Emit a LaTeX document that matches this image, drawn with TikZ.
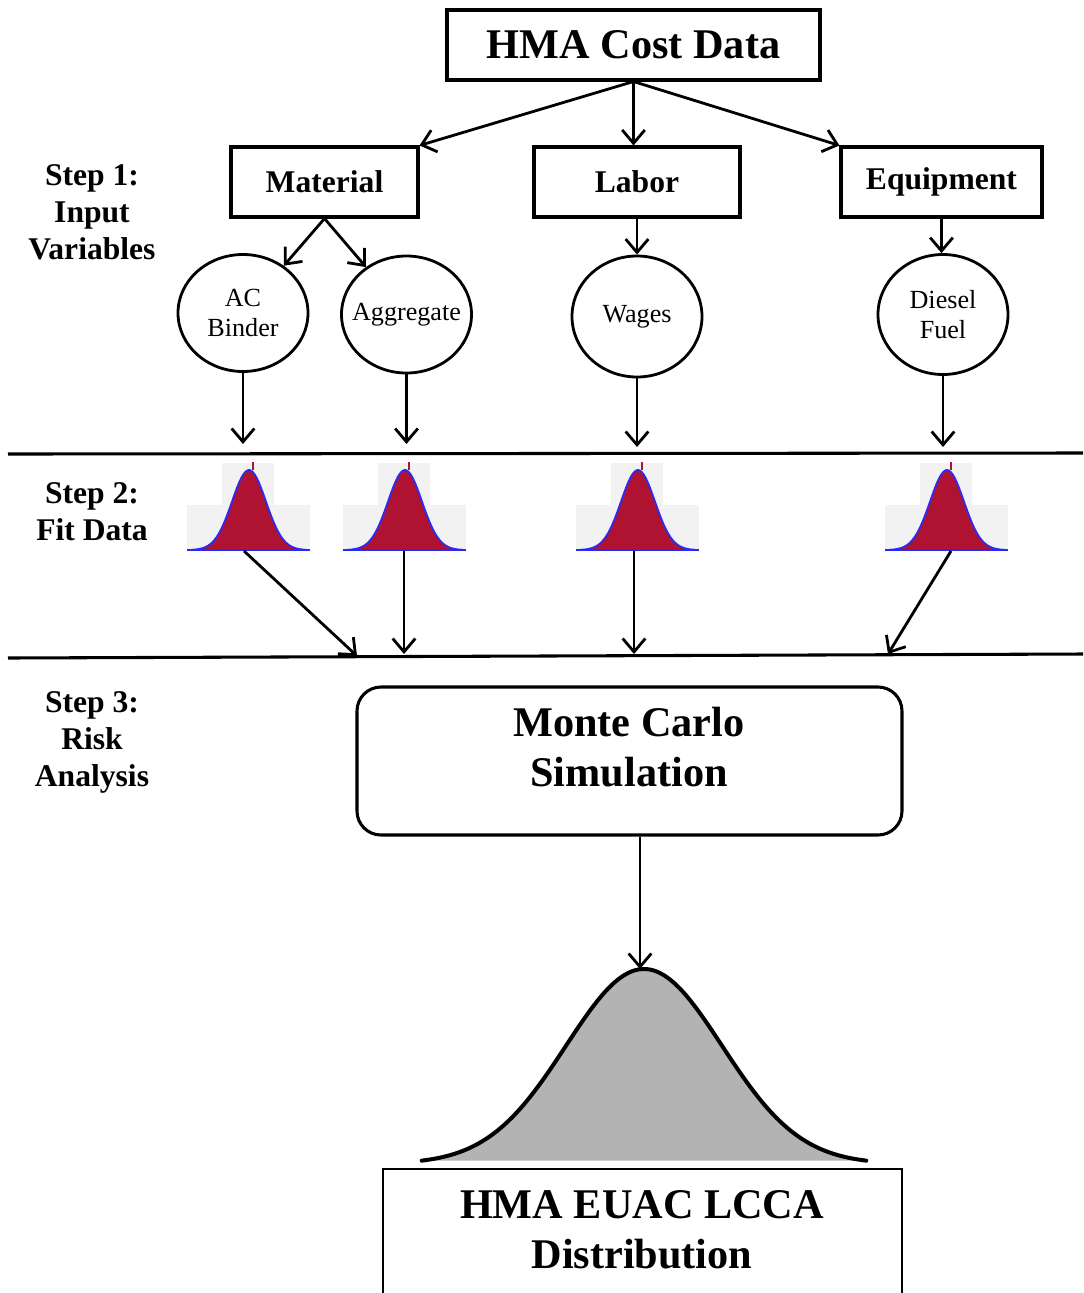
\documentclass[tikz,border=0pt]{standalone}
\usepackage{fontspec}
\setmainfont{Liberation Serif}
\usetikzlibrary{arrows.meta,shapes.geometric}
\newcommand\myBig{\fontsize{31.7}{37.5}\selectfont\bfseries}
\newcommand\myMed{\fontsize{23.7}{27.75}\selectfont\bfseries}
\newcommand\mySmall{\fontsize{19.6}{22.5}\selectfont}
\definecolor{histbg}{HTML}{F2F2F2}
\definecolor{histred}{HTML}{B01232}
\definecolor{histblue}{HTML}{2A2AF5}
\definecolor{bellgray}{HTML}{B3B3B3}
% #1 = centre x of the bell, #2 = name of the arrow start, #3 = x of the arrow start
\newcommand\drawhist[3]{%
  \fill[histbg] (#1-62,505) rectangle (#1+61,550);
  \fill[histbg] (#1-27,463) rectangle (#1+25,550);
  \fill[histred] plot[domain=-3.4:3.4,samples=70] ({#1+17*\x},{550-80*exp(-\x*\x/2)}) -- cycle;
  \draw[histred,line width=1pt] (#1+4,470) -- (#1+4,462);
  \draw[histblue,line width=1.3pt] plot[domain=-3.4:3.4,samples=70] ({#1+17*\x},{550-80*exp(-\x*\x/2)});
  \draw[histblue,line width=1.3pt] (#1-62,550) -- (#1+61,550);
  \coordinate (#2) at (#3,551);
}
\begin{document}
\begin{tikzpicture}[x=0.75pt,y=-0.75pt,
  box/.style={draw,line width=2.3pt,inner sep=0pt,minimum height=52.5pt,font=\myMed},
  oval/.style={draw,ellipse,line width=2.1pt,inner sep=0pt,minimum width=97.5pt,align=center,font=\mySmall},
  arr/.style={line width=2.1pt,-{Straight Barb[length=10pt,width=17pt]}},
  steplbl/.style={anchor=north,align=center,font=\myMed,inner sep=0pt},
  bigtext/.style={anchor=north,align=center,font=\myBig,inner sep=0pt},
  sep/.style={line width=2.3pt},
]
\useasboundingbox (0,0) rectangle (1083,1293);

% top level
\node[box,font=\myBig,minimum width=279.75pt] (cost) at (633.5,45) {HMA Cost Data};
\node[box,minimum width=140.25pt] (material) at (324.5,182) {Material};
\node[box,minimum width=154.5pt] (labor) at (637,182) {Labor};
\node[box,minimum width=150.75pt] (equip) at (941.5,182) {Equipment};

\draw[arr] (cost.south) -- (material.north east);
\draw[arr] (cost.south) -- (cost.south |- labor.north);
\draw[arr] (cost.south) -- (equip.north west);

% input variables
\node[oval,minimum height=87.75pt] (acb) at (243,313) {AC\\Binder};
\node[oval,minimum height=87.75pt,inner xsep=-20pt] (agg) at (406.5,314.5) {Aggregate};
\node[oval,minimum height=90.75pt] (wages) at (637,316.5) {Wages};
\node[oval,minimum height=90pt] (diesel) at (943,314.5) {Diesel\\Fuel};

\draw[arr] (material.south) -- (acb);
\draw[arr] (material.south) -- (agg);
\draw[arr] (labor.south) -- (wages.north);
\draw[arr] (equip.south) -- (equip.south |- diesel.north);

\coordinate (a1) at (243,444);
\coordinate (a2) at (406.5,444);
\coordinate (a3) at (637,447);
\coordinate (a4) at (943,447);
\draw[arr] (acb.south) -- (a1);
\draw[arr] (agg.south) -- (a2);
\draw[arr] (wages.south) -- (a3);
\draw[arr] (diesel.south) -- (a4);

% separators
\draw[sep] (8,454) -- (1083,453);
\draw[sep] (8,658) -- (1083,654);

% step labels
\node[steplbl] (s1) at (92,164) {Step 1:\\Input\\Variables};
\node[steplbl] (s2) at (92,482) {Step 2:\\Fit Data};
\node[steplbl] (s3) at (92,691) {Step 3:\\Risk\\Analysis};

% fitted distributions
\drawhist{249}{h1}{244}
\drawhist{405}{h2}{404}
\drawhist{638}{h3}{634}
\drawhist{947}{h4}{951}

\coordinate (e1) at (357,656);
\coordinate (e2) at (404,654);
\coordinate (e3) at (634,654);
\coordinate (e4) at (888,654);
\draw[arr] (h1) -- (e1);
\draw[arr] (h2) -- (e2);
\draw[arr] (h3) -- (e3);
\draw[arr] (h4) -- (e4);

% Monte Carlo
\node[draw,rounded corners=18pt,line width=2.3pt,minimum width=408.75pt,minimum height=111pt] (mc) at (629.5,761) {};
\node[bigtext] (mct) at (629,707) {Monte Carlo\\Simulation};

% output distribution
\coordinate (peak) at (640,969);
\draw[arr] (peak |- mc.south) -- (peak);
\fill[bellgray] plot[domain=-2.85:2.85,samples=120] ({644+78*\x},{1164-195*exp(-\x*\x/2)}) -- cycle;
\draw[line width=3pt,line join=round,line cap=round] plot[domain=-2.85:2.85,samples=120] ({644+78*\x},{1164-195*exp(-\x*\x/2)});

\draw[line width=1.2pt] (383,1295) -- (383,1169) -- (902,1169) -- (902,1295);
\node[bigtext] (out) at (642,1190) {HMA EUAC LCCA\\Distribution};
\end{tikzpicture}
\end{document}
